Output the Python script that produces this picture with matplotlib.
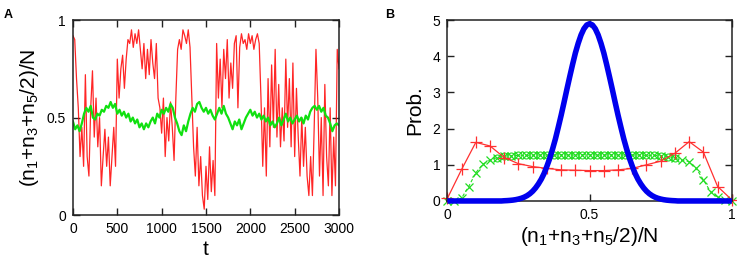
"""
Two-panel figure: (A) time series of (n1+n3+n5/2)/N, (B) its probability distribution.
"""
import matplotlib
matplotlib.use("Agg")
import matplotlib.pyplot as plt

plt.rcParams["font.family"] = ["Liberation Sans", "DejaVu Sans"]
plt.rcParams["mathtext.fontset"] = "custom"
plt.rcParams["mathtext.rm"] = "Liberation Sans"
plt.rcParams["mathtext.it"] = "Liberation Sans:italic"

# Panel A: time series (t step 20 for red, 25 for green)
t_red = list(range(0, 3001, 20))
red_series = [
    0.92, 0.90, 0.70, 0.55, 0.30, 0.45, 0.25, 0.72, 0.30, 0.20,
    0.55, 0.74, 0.40, 0.60, 0.35, 0.50, 0.15, 0.30, 0.44, 0.25,
    0.40, 0.15, 0.30, 0.45, 0.25, 0.80, 0.60, 0.75, 0.82, 0.65,
    0.80, 0.90, 0.88, 0.95, 0.86, 0.93, 0.88, 0.95, 0.85, 0.75,
    0.88, 0.70, 0.85, 0.72, 0.90, 0.78, 0.70, 0.88, 0.60, 0.55,
    0.42, 0.60, 0.30, 0.50, 0.38, 0.58, 0.45, 0.28, 0.60, 0.85,
    0.90, 0.85, 0.95, 0.92, 0.88, 0.95, 0.86, 0.60, 0.35, 0.20,
    0.45, 0.15, 0.30, 0.10, 0.03, 0.25, 0.08, 0.35, 0.12, 0.28,
    0.10, 0.88, 0.60, 0.80, 0.55, 0.85, 0.70, 0.90, 0.60, 0.78,
    0.65, 0.88, 0.92, 0.55, 0.86, 0.93, 0.88, 0.90, 0.85, 0.93,
    0.88, 0.92, 0.85, 0.90, 0.93, 0.88, 0.60, 0.25, 0.55, 0.20,
    0.70, 0.35, 0.77, 0.45, 0.85, 0.40, 0.67, 0.35, 0.55, 0.38,
    0.80, 0.45, 0.70, 0.35, 0.78, 0.30, 0.65, 0.40, 0.20, 0.50,
    0.25, 0.45, 0.20, 0.10, 0.30, 0.10, 0.45, 0.85, 0.60, 0.20,
    0.50, 0.10, 0.67, 0.30, 0.15, 0.55, 0.10, 0.40, 0.15, 0.85,
    0.75,
]
t_green = list(range(0, 3001, 25))
green_series = [
    0.48, 0.44, 0.46, 0.43, 0.47, 0.52, 0.55, 0.53, 0.56, 0.50,
    0.49, 0.52, 0.51, 0.54, 0.53, 0.56, 0.55, 0.58, 0.55, 0.57,
    0.52, 0.54, 0.51, 0.53, 0.50, 0.52, 0.48, 0.50, 0.47, 0.49,
    0.45, 0.47, 0.44, 0.47, 0.45, 0.48, 0.50, 0.47, 0.52, 0.50,
    0.54, 0.52, 0.55, 0.53, 0.57, 0.55, 0.50, 0.47, 0.43, 0.41,
    0.46, 0.43, 0.48, 0.52, 0.55, 0.53, 0.57, 0.58, 0.55, 0.53,
    0.55, 0.52, 0.54, 0.51, 0.49, 0.52, 0.55, 0.52, 0.56, 0.52,
    0.50, 0.47, 0.44, 0.48, 0.46, 0.49, 0.44, 0.47, 0.50, 0.52,
    0.54, 0.51, 0.53, 0.50, 0.52, 0.49, 0.51, 0.48, 0.50, 0.46,
    0.48, 0.45, 0.47, 0.50, 0.46, 0.49, 0.52, 0.48, 0.50, 0.47,
    0.49, 0.51, 0.48, 0.50, 0.47, 0.51, 0.49, 0.53, 0.55, 0.56,
    0.54, 0.56, 0.53, 0.55, 0.51, 0.50, 0.47, 0.43, 0.46, 0.47,
    0.46,
]

# Panel B: distributions
x_red = [i / 20 for i in range(21)]
prob_red = [0.07, 0.87, 1.62, 1.52, 1.20, 1.03, 0.95, 0.90, 0.86, 0.85, 0.84,
            0.84, 0.86, 0.90, 1.00, 1.10, 1.32, 1.64, 1.35, 0.40, 0.03]

x_green = [i / 40 for i in range(41)]
prob_green_x = [0.00, 0.00, 0.08, 0.40, 0.78, 1.02, 1.13, 1.20, 1.24, 1.25,
                1.26, 1.26, 1.27, 1.27, 1.27, 1.27, 1.28, 1.27, 1.27, 1.28,
                1.28, 1.27, 1.27, 1.28, 1.27, 1.27, 1.27, 1.27, 1.26, 1.26,
                1.25, 1.22, 1.18, 1.12, 1.09, 0.90, 0.58, 0.26, 0.10, 0.02, 0.00]
x_circ = [i / 40 for i in range(7, 33)]
prob_green_o = [1.20, 1.24, 1.25, 1.26, 1.26, 1.27, 1.27, 1.27, 1.27, 1.28,
                1.27, 1.27, 1.28, 1.28, 1.27, 1.27, 1.28, 1.27, 1.27, 1.27,
                1.27, 1.26, 1.26, 1.25, 1.22, 1.18]

x_blue = [i / 100 for i in range(101)]
prob_blue = [
    0.0, 0.0, 0.0, 0.0, 0.0, 0.0, 0.0, 0.0, 0.0, 0.0,
    0.0, 0.0, 0.0, 0.0, 0.0, 0.0, 0.0, 0.0, 0.0, 0.0,
    0.006, 0.01, 0.016, 0.024, 0.036, 0.053, 0.075, 0.105, 0.146, 0.20,
    0.27, 0.36, 0.47, 0.60, 0.76, 0.96, 1.18, 1.44, 1.72, 2.04,
    2.37, 2.72, 3.08, 3.43, 3.77, 4.09, 4.36, 4.59, 4.76, 4.865,
    4.90,
    4.865, 4.76, 4.59, 4.36, 4.09, 3.77, 3.43, 3.08, 2.72, 2.37,
    2.04, 1.72, 1.44, 1.18, 0.96, 0.76, 0.60, 0.47, 0.36, 0.27,
    0.20, 0.146, 0.105, 0.075, 0.053, 0.036, 0.024, 0.016, 0.01, 0.006,
    0.0, 0.0, 0.0, 0.0, 0.0, 0.0, 0.0, 0.0, 0.0, 0.0,
    0.0, 0.0, 0.0, 0.0, 0.0, 0.0, 0.0, 0.0, 0.0, 0.0,
]

LABEL = r"(n$_1$+n$_3$+n$_5$/2)/N"


def style_axes(ax):
    """gnuplot-like box with inward mirrored ticks"""
    ax.tick_params(direction="in", top=True, right=True, length=5, width=1,
                   labelsize=10, pad=5, color="#222222")
    for s in ax.spines.values():
        s.set_linewidth(1.1)
        s.set_color("#222222")


fig = plt.figure(figsize=(7.37, 2.61), dpi=100)

# Panel A
ax1 = fig.add_axes([0.099, 0.176, 0.361, 0.747])
ax1.plot(t_red, red_series, color="#ff0000", lw=0.9, alpha=0.85)
ax1.plot(t_green, green_series, color="#10e010", lw=1.6)
ax1.set_xlim(0, 3000)
ax1.set_ylim(0, 1)
ax1.set_xticks([0, 500, 1000, 1500, 2000, 2500, 3000])
ax1.set_yticks([0, 0.5, 1])
ax1.set_yticklabels(["0", "0.5", "1"])
ax1.set_xlabel("t", fontsize=15, labelpad=3)
ax1.set_ylabel(LABEL, fontsize=15, labelpad=4)
style_axes(ax1)

# Panel B
ax2 = fig.add_axes([0.607, 0.23, 0.386, 0.693])
ax2.plot(x_blue, prob_blue, color="#0000ee", lw=4.0, solid_capstyle="butt",
         clip_on=False, zorder=3)
ax2.plot(x_green, prob_green_x, color="#22dd22", lw=0.8, ls=(0, (3, 2)),
         marker="x", ms=6, mew=0.9, clip_on=False, zorder=2)
ax2.plot(x_circ, prob_green_o, color="#22dd22", lw=0.0,
         marker="o", ms=5, mfc="none", mew=0.8, clip_on=False, zorder=2)
ax2.plot(x_red, prob_red, color="#ff3030", lw=0.9,
         marker="+", ms=8, mew=0.9, clip_on=False, zorder=2)
ax2.set_xlim(0, 1)
ax2.set_ylim(0, 5)
ax2.set_xticks([0, 0.5, 1])
ax2.set_xticklabels(["0", "0.5", "1"])
ax2.set_yticks([0, 1, 2, 3, 4, 5])
ax2.set_xlabel(LABEL, fontsize=15, labelpad=2)
ax2.set_ylabel("Prob.", fontsize=15, labelpad=6)
style_axes(ax2)

fig.text(0.005, 0.965, "A", fontsize=9, fontweight="bold", va="top")
fig.text(0.522, 0.965, "B", fontsize=9, fontweight="bold", va="top")

fig.savefig("out.png", dpi=100)
